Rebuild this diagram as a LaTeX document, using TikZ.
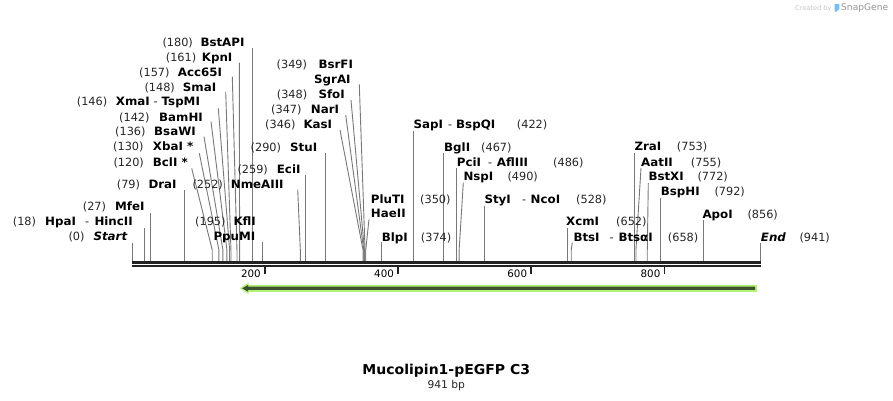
\documentclass[tikz,border=0pt]{standalone}
\usepackage{fontspec}
\setmainfont{DejaVu Sans}
\newfontfamily\nmfam[FakeStretch=1.03]{DejaVu Sans}
\definecolor{siteln}{RGB}{120,120,120}
\definecolor{bb}{RGB}{34,34,34}
\definecolor{featg}{RGB}{178,240,120}
\definecolor{featd}{RGB}{62,82,48}
\definecolor{wm}{RGB}{200,200,200}
\definecolor{wmtwo}{RGB}{150,150,150}
\definecolor{logob}{RGB}{120,190,240}
\newcommand\bpx[1]{132.2+0.6672*#1}
\newcommand\tx[5]{\node[#1] (#2) at (#3,#4+4.2) {#5};}
\newcommand\ssite[4]{%
  \coordinate (t#1) at (#3,#4);
  \coordinate (k#1) at ({\bpx{#2}},250);
  \coordinate (b#1) at ({\bpx{#2}},260.8);
  \draw[siteline] (t#1) -- (k#1) -- (b#1);}
\newcommand\vsite[3]{%
  \coordinate (t#1) at ({\bpx{#2}},#3);
  \coordinate (b#1) at ({\bpx{#2}},260.8);
  \draw[siteline] (t#1) -- (b#1);}
\tikzset{
  nm/.style={anchor=base west, inner sep=0pt, font=\nmfam\bfseries\fontsize{11.5}{13}\selectfont},
  nmi/.style={anchor=base west, inner sep=0pt, font=\nmfam\bfseries\itshape\fontsize{11.5}{13}\selectfont},
  num/.style={anchor=base west, inner sep=0pt, font=\fontsize{11.3}{13}\selectfont, text=black!85},
  siteline/.style={draw=siteln, line width=0.9pt},
  tickmark/.style={draw=bb, line width=1.6pt},
  ticklab/.style={anchor=base east, inner sep=0pt, font=\fontsize{10.3}{12}\selectfont},
}
\begin{document}
\begin{tikzpicture}[x=1pt,y=-1pt]
\fill[white] (0,0) rectangle (893,400);
\useasboundingbox (0,0) rectangle (893,400);

% watermark
\node[anchor=base west, inner sep=0pt, text=wm, font=\fontsize{6.6}{8}\selectfont] (wmc) at (795,10) {Created by};
\fill[logob] (834.5,4) -- (839.3,4) -- (839.3,9) -- (836.5,11.5) -- (834.5,11.5) -- cycle;
\node[anchor=base west, inner sep=0pt, text=wmtwo, font=\fontsize{9.1}{10}\selectfont] (wms) at (841,10.8) {SnapGene};

% site lines
\vsite{BstAPI}{180}{48.3}
\ssite{KpnI}{161}{239.3}{62.7}
\ssite{AccI}{157}{232.3}{76.7}
\ssite{SmaI}{148}{225.7}{91.7}
\ssite{XmaI}{146}{218.3}{108.3}
\ssite{BamHI}{142}{211}{121.7}
\ssite{BsaWI}{136}{204}{136.7}
\ssite{XbaI}{130}{199.3}{153.3}
\ssite{BclI}{120}{191.7}{168.3}
\vsite{DraI}{79}{190}
\ssite{NmeAIII}{252}{297.7}{189.5}
\vsite{EciI}{259}{175}
\vsite{StuI}{290}{153}
\vsite{MfeI}{27}{213}
\vsite{HpaI}{18}{228}
\vsite{Start}{0}{243}
\vsite{PpuMI}{195}{242}
\ssite{KasI}{346}{340}{130}
\ssite{NarI}{347}{345.7}{115}
\ssite{SfoI}{348}{351}{100}
\ssite{SgrAI}{349}{359.3}{84.5}
\ssite{HaeII}{350}{369}{219.3}
\vsite{BlpI}{374}{242}
\vsite{SapI}{422}{131}
\vsite{BglI}{467}{153}
\vsite{PciI}{486}{168}
\ssite{NspI}{490}{463.3}{182.7}
\vsite{StyI}{528}{205.5}
\vsite{XcmI}{652}{228}
\ssite{BtsI}{658}{572.3}{242.5}
\vsite{ZraI}{753}{153}
\ssite{AatII}{755}{641}{168}
\ssite{BstXI}{772}{648.3}{183}
\vsite{BspHI}{792}{198}
\vsite{ApoI}{856}{220}
\vsite{End}{941}{243}

% backbone
\coordinate (bbl1) at (132.3,262.2);
\coordinate (bbr1) at (760.7,262.2);
\coordinate (bbl2) at (132.3,266.2);
\coordinate (bbr2) at (760.7,266.2);
\draw[bb, line width=3pt] (bbl1) -- (bbr1);
\draw[bb, line width=2.2pt] (bbl2) -- (bbr2);

% ticks
\foreach \xx/\lab in {264.7/200, 397.9/400, 531.1/600, 664.3/800}{
  \draw[tickmark] (\xx,267.3) -- (\xx,274.2);
  \node[ticklab] at (\xx-3.8,277.4) {\lab};
}

% feature arrow
\fill[featg] (240,288.3) -- (248.5,282.6) -- (248.5,284.8) -- (757,284.8) -- (757,291.8) -- (248.5,291.8) -- (248.5,294) -- cycle;
\fill[featd] (242.2,288.3) -- (248,285) -- (248,286.7) -- (755,286.7) -- (755,289.9) -- (248,289.9) -- (248,291.6) -- cycle;

% left labels
\tx{num}{p180}{162.3}{42.3}{(180)} \tx{nm}{BstAPI}{200.3}{42.3}{BstAPI}
\tx{num}{p161}{165.7}{57.5}{(161)} \tx{nm}{KpnI}{201.7}{57.5}{KpnI}
\tx{num}{p157}{139}{72.3}{(157)} \tx{nm}{AccI}{177.7}{72.3}{Acc65I}
\tx{num}{p148}{144.3}{87.3}{(148)} \tx{nm}{SmaI}{182.7}{87.3}{SmaI}
\tx{num}{p146}{76.7}{101.7}{(146)} \tx{nm}{XmaI}{115.7}{101.7}{XmaI} \tx{num}{h146}{153.5}{101.7}{-} \tx{nm}{TspMI}{161.5}{101.7}{TspMI}
\tx{num}{p142}{119}{117.3}{(142)} \tx{nm}{BamHI}{159}{117.3}{BamHI}
\tx{num}{p136}{115}{131.5}{(136)} \tx{nm}{BsaWI}{154}{131.5}{BsaWI}
\tx{num}{p130}{113}{146.7}{(130)} \tx{nm}{XbaI}{152.7}{146.7}{XbaI *}
\tx{num}{p120}{113.3}{162.5}{(120)} \tx{nm}{BclI}{152.7}{162.5}{BclI *}
\tx{num}{p79}{116.7}{184.3}{(79)} \tx{nm}{DraI}{148.3}{184.3}{DraI}
\tx{num}{p252}{192.3}{184.3}{(252)} \tx{nm}{NmeAIII}{230.7}{184.3}{NmeAIII}
\tx{num}{p259}{237.3}{169.3}{(259)} \tx{nm}{EciI}{276.7}{169.3}{EciI}
\tx{num}{p290}{250.5}{147.5}{(290)} \tx{nm}{StuI}{290}{147.5}{StuI}
\tx{num}{p27}{82.7}{206.7}{(27)} \tx{nm}{MfeI}{115}{206.7}{MfeI}
\tx{num}{p18}{12.7}{221.7}{(18)} \tx{nm}{HpaI}{45}{221.7}{HpaI} \tx{num}{h18}{85}{221.7}{-} \tx{nm}{HincII}{94.3}{221.7}{HincII}
\tx{num}{p0}{68.3}{236.7}{(0)} \tx{nmi}{Start}{93.3}{236.7}{Start}
\tx{num}{p195}{195}{221.7}{(195)} \tx{nm}{KflI}{233.3}{221.7}{KflI}
\tx{nm}{PpuMI}{213.3}{236.7}{PpuMI}

% middle and right labels
\tx{num}{p349}{276.5}{64.3}{(349)} \tx{nm}{BsrFI}{318.3}{64.3}{BsrFI}
\tx{nm}{SgrAI}{314}{79.3}{SgrAI}
\tx{num}{p348}{276.7}{94}{(348)} \tx{nm}{SfoI}{318.3}{94}{SfoI}
\tx{num}{p347}{271}{109}{(347)} \tx{nm}{NarI}{310.7}{109}{NarI}
\tx{num}{p346}{265}{124.5}{(346)} \tx{nm}{KasI}{303.3}{124.5}{KasI}
\tx{nm}{SapI}{413.3}{124.5}{SapI} \tx{num}{h422}{448}{124.5}{-} \tx{nm}{BspQI}{456}{124.5}{BspQI} \tx{num}{p422}{516.7}{124.5}{(422)}
\tx{nm}{BglI}{444}{147.5}{BglI} \tx{num}{p467}{481}{147.5}{(467)}
\tx{nm}{PciI}{456.7}{162.5}{PciI} \tx{num}{h486}{488}{162.5}{-} \tx{nm}{AflIII}{496.7}{162.5}{AflIII} \tx{num}{p486}{553}{162.5}{(486)}
\tx{nm}{NspI}{463.3}{176.7}{NspI} \tx{num}{p490}{507.3}{176.7}{(490)}
\tx{nm}{PluTI}{370.7}{199}{PluTI} \tx{num}{p350}{420}{199}{(350)}
\tx{nm}{HaeII}{370.7}{213.7}{HaeII}
\tx{nm}{BlpI}{381.7}{237}{BlpI} \tx{num}{p374}{420.7}{237}{(374)}
\tx{nm}{StyI}{484.3}{199}{StyI} \tx{num}{h528}{522}{199}{-} \tx{nm}{NcoI}{530.5}{199}{NcoI} \tx{num}{p528}{576}{199}{(528)}
\tx{nm}{XcmI}{566}{221.7}{XcmI} \tx{num}{p652}{616}{221.7}{(652)}
\tx{nm}{BtsI}{573.3}{237}{BtsI} \tx{num}{h658}{609.5}{237}{-} \tx{nm}{BtsaI}{618.3}{237}{BtsαI} \tx{num}{p658}{667.7}{237}{(658)}
\tx{nm}{ZraI}{634.3}{146.7}{ZraI} \tx{num}{p753}{676.7}{146.7}{(753)}
\tx{nm}{AatII}{641}{162}{AatII} \tx{num}{p755}{690.7}{162}{(755)}
\tx{nm}{BstXI}{648.3}{176.7}{BstXI} \tx{num}{p772}{697.3}{176.7}{(772)}
\tx{nm}{BspHI}{660.7}{191.7}{BspHI} \tx{num}{p792}{714.3}{191.7}{(792)}
\tx{nm}{ApoI}{702.3}{214}{ApoI} \tx{num}{p856}{747.3}{214}{(856)}
\tx{nmi}{End}{760.7}{237}{End} \tx{num}{p941}{799.3}{237}{(941)}

% title
\node[inner sep=0pt, anchor=base, font=\nmfam\bfseries\fontsize{13.6}{15}\selectfont] (title) at (446.3,374.2) {Mucolipin1-pEGFP C3};
\node[inner sep=0pt, anchor=base, font=\fontsize{10.7}{12}\selectfont, text=black!85] (len) at (446.3,388.2) {941 bp};
\end{tikzpicture}
\end{document}
